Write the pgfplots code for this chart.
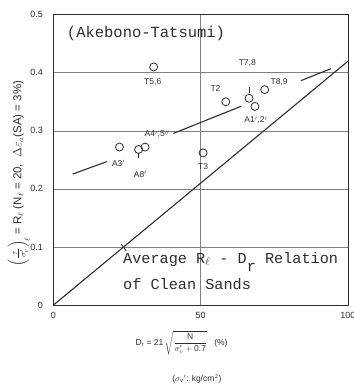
\documentclass[border=0pt]{standalone}
\usepackage{amsmath}
\usepackage{pgfplots}
\pgfplotsset{compat=1.18}
\usepackage{fontspec}
\setmainfont{Liberation Sans}
\setmonofont{Liberation Mono}
\definecolor{ink}{RGB}{45,45,45}
\begin{document}
\begin{tikzpicture}
\path[use as bounding box] (-53.5pt,-84pt) rectangle (300.5pt,305pt);
\begin{axis}[
  at={(0pt,0pt)}, anchor=south west,
  scale only axis, width=294.5pt, height=290.3pt,
  xmin=0, xmax=100, ymin=0, ymax=0.5,
  xtick={0,50,100}, xticklabels={0,50,100},
  ytick={0,0.1,0.2,0.3,0.4,0.5}, yticklabels={0,0.1,0.2,0.3,0.4,0.5},
  major tick length=0pt,
  grid=major, grid style={black!50, line width=0.6pt},
  axis line style={ink, line width=0.9pt},
  tick label style={font=\fontsize{9}{10}\selectfont, text=ink},
  yticklabel style={xshift=-7pt},
  xticklabel style={yshift=-4pt},
  clip=false,
  ylabel={$\left(\frac{\tau}{\sigma_v'}\right)_{\!\ell}$ = R$_\ell$ (N$_\ell$ = 20,\ \ $\Delta\varepsilon_a$(SA) = 3\%)},
  ylabel style={at={(axis description cs:-0.118,0.453)}, anchor=center, font=\fontsize{11.5}{12}\selectfont, text=ink},
]
% reference line of clean sands
\addplot[ink, line width=1.1pt] coordinates {(0,0) (100,0.42)};
% trend line (broken at labels)
\addplot[ink, line width=1.1pt] coordinates {(6.5,0.2255) (18.1,0.247)};
\addplot[ink, line width=1.1pt] coordinates {(40.7,0.2955) (63.8,0.3425)};
\addplot[ink, line width=1.1pt] coordinates {(84.0,0.3864) (94.2,0.407)};
% data points
\addplot[only marks, mark=o, mark size=4pt, mark options={ink, line width=0.8pt}] coordinates {
 (34.0,0.410) (58.5,0.350) (66.4,0.356) (68.4,0.342) (71.7,0.371)
 (50.8,0.262) (22.4,0.272) (28.9,0.268) (31.1,0.272)
};
% leader ticks
\addplot[ink, line width=0.8pt] coordinates {(66.6,0.3757) (66.6,0.3644)};
\addplot[ink, line width=0.8pt] coordinates {(28.7,0.2616) (28.7,0.2530)};
\addplot[ink, line width=0.8pt] coordinates {(23.0,0.105) (24.7,0.093)};
% point labels
\begin{scope}[every node/.style={font=\fontsize{8.5}{9}\selectfont, text=ink, inner sep=1pt}]
\node at (axis cs:33.7,0.384) {T5,6};
\node at (axis cs:55.0,0.373) {T2};
\node at (axis cs:65.8,0.416) {T7,8};
\node at (axis cs:76.6,0.384) {T8,9};
\node at (axis cs:68.7,0.318) {A1$'$,2$'$};
\node at (axis cs:35.2,0.294) {A4$'$,5$''$};
\node at (axis cs:50.8,0.238) {T3};
\node at (axis cs:22.1,0.244) {A3$'$};
\node at (axis cs:29.5,0.225) {A8$'$};
\end{scope}
% annotations
\node[anchor=west, font=\ttfamily\fontsize{15.5}{16}\selectfont, text=ink, inner sep=0pt] at (axis cs:4.5,0.468) {(Akebono-Tatsumi)};
\node[anchor=west, font=\ttfamily\fontsize{15.2}{16}\selectfont, text=ink, inner sep=0pt] at (axis cs:23.6,0.074) {Average R$_{\large\ell}$ - D\raisebox{-1.1ex}{r} Relation};
\node[anchor=west, font=\ttfamily\fontsize{15.2}{16}\selectfont, text=ink, inner sep=0pt] at (axis cs:23.6,0.036) {of Clean Sands};
% x label
\node[font=\fontsize{8.5}{10}\selectfont, text=ink] at (axis cs:43.5,-0.0654) {D\textsubscript{r} = 21\,$\sqrt{\dfrac{\text{N}}{\sigma_v'+\text{0.7}}}$\ \ \ (\%)};
\node[font=\fontsize{8.5}{10}\selectfont, text=ink] at (axis cs:48.7,-0.127) {($\sigma_\text{v}{}'$: kg/cm$^2$)};
\end{axis}
\end{tikzpicture}
\end{document}
